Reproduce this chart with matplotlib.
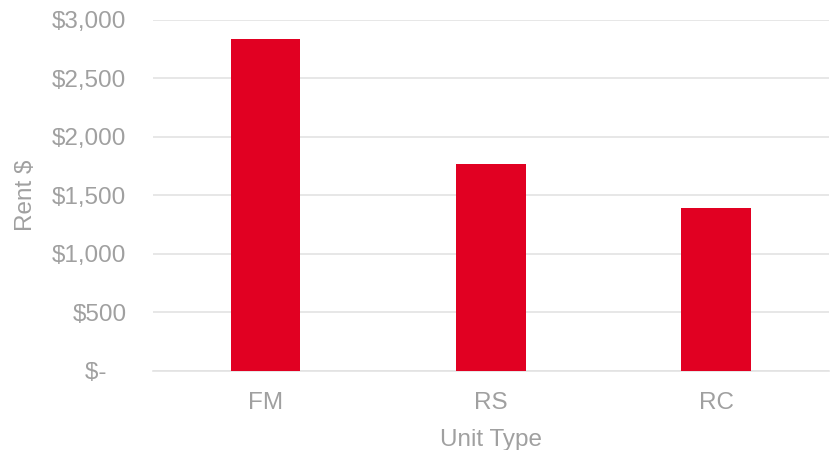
import matplotlib
matplotlib.use("Agg")
import matplotlib.pyplot as plt
from matplotlib.ticker import FuncFormatter

unit_types = ["FM", "RS", "RC"]
rent = [2840, 1770, 1395]
y_ticks = [0, 500, 1000, 1500, 2000, 2500, 3000]

text_color = "#a0a0a0"
plt.rcParams["font.family"] = ["Liberation Sans", "DejaVu Sans"]

fig = plt.figure(figsize=(8.35, 4.5), dpi=100)
ax = fig.add_axes([0.183, 0.176, 0.81, 0.780])

ax.bar(range(len(unit_types)), rent, width=0.31, color="#e10022", zorder=3)
ax.set_xlim(-0.5, len(unit_types) - 0.5)
ax.set_ylim(0, 3000)
ax.set_yticks(y_ticks)
ax.set_xticks(range(len(unit_types)))
ax.set_xticklabels(unit_types)


def money(v, pos):
    if v == 0:
        return "$-   "
    return f"${v:,.0f}"


ax.yaxis.set_major_formatter(FuncFormatter(money))
ax.grid(axis="y", color="#e3e3e3", linewidth=1.2, zorder=0)
for side in ["top", "right", "left"]:
    ax.spines[side].set_visible(False)
ax.spines["bottom"].set_color("#e3e3e3")
ax.spines["bottom"].set_linewidth(1.2)
ax.tick_params(axis="both", length=0, labelsize=17.5, colors=text_color)
ax.tick_params(axis="y", pad=19)
ax.tick_params(axis="x", pad=15)

ax.set_xlabel("Unit Type", fontsize=17.5, color=text_color, labelpad=11)
ax.set_ylabel("Rent $", fontsize=17.5, color=text_color, labelpad=11)

plt.savefig("out.png", dpi=100)
